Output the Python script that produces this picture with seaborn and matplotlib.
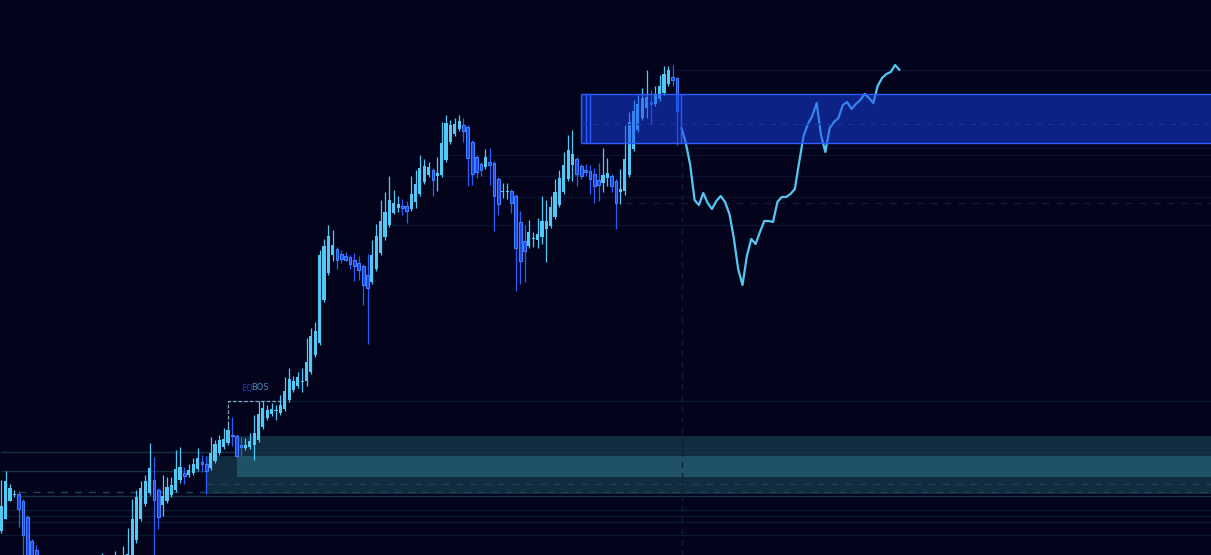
import numpy as np
import pandas as pd
import matplotlib.pyplot as plt
from matplotlib.patches import Rectangle
import seaborn as sns

# candle data (one bar per index)
opens = [1924, 1936, 1954, 1960, 1961, 1954, 1938, 1914, 1905, 1870, 1855, 1845, 1830, 1840, 1825,
         1830, 1838, 1846, 1840, 1855, 1862, 1858, 1872, 1880, 1895, 1890, 1894, 1898, 1892, 1890,
         1895, 1915, 1936, 1951, 1962, 1975, 1965, 1950, 1954, 1960,
         1965, 1975, 1982, 1980, 1982, 1986, 1993, 1991, 1987, 1994,
         2002, 2008, 2012, 2020, 2019, 2010, 2007, 2008, 2010, 2015,
         2028, 2037, 2041, 2044, 2042, 2046, 2055, 2065, 2069, 2073,
         2074, 2083, 2100, 2112, 2155, 2182, 2200, 2206, 2201, 2199,
         2198, 2195, 2192, 2189, 2180, 2173, 2186, 2202, 2218, 2230,
         2242, 2247, 2249, 2249, 2246, 2253, 2261, 2273, 2280, 2285,
         2279, 2280, 2295, 2313, 2321, 2326, 2330, 2328, 2313, 2298,
         2291, 2288, 2293, 2292, 2276, 2263, 2263, 2264, 2259, 2233,
         2214, 2209, 2216, 2215, 2218, 2226, 2229, 2238, 2250, 2263,
         2276, 2290, 2296, 2289, 2285, 2284, 2281, 2275, 2272, 2277,
         2279, 2274, 2263, 2264, 2280, 2306, 2325, 2337, 2347, 2353,
         2351, 2356, 2362, 2371, 2378, 2377]
highs = [1975, 1984, 1971, 1965, 1964, 1956, 1940, 1916, 1910, 1874, 1862, 1850, 1845, 1848, 1835,
         1842, 1850, 1852, 1858, 1866, 1870, 1875, 1885, 1902, 1899, 1898, 1904, 1899, 1909, 1927,
         1956, 1965, 1974, 1980, 2012, 1998, 1967, 1980, 1978, 1978,
         2005, 2008, 1988, 1991, 1997, 2007, 2000, 1999, 2018, 2015,
         2020, 2027, 2033, 2038, 2021, 2018, 2017, 2022, 2040, 2054,
         2054, 2050, 2052, 2050, 2060, 2078, 2087, 2079, 2083, 2087,
         2117, 2127, 2133, 2205, 2216, 2230, 2225, 2208, 2205, 2203,
         2200, 2202, 2199, 2191, 2201, 2215, 2231, 2255, 2263, 2279,
         2265, 2259, 2256, 2254, 2279, 2285, 2300, 2296, 2293, 2287,
         2298, 2333, 2340, 2335, 2337, 2340, 2337, 2330, 2315, 2300,
         2293, 2306, 2307, 2294, 2278, 2272, 2272, 2266, 2261, 2244,
         2230, 2235, 2223, 2237, 2259, 2255, 2259, 2276, 2285, 2303,
         2320, 2325, 2298, 2291, 2291, 2290, 2287, 2292, 2307, 2297,
         2281, 2276, 2286, 2330, 2343, 2355, 2360, 2367, 2385, 2365,
         2369, 2380, 2389, 2389, 2390, 2378]
lows = [1922, 1936, 1954, 1958, 1928, 1895, 1885, 1875, 1865, 1850, 1840, 1825, 1825, 1820, 1810,
        1826, 1832, 1835, 1838, 1850, 1852, 1855, 1868, 1875, 1885, 1880, 1888, 1885, 1886, 1885,
        1890, 1912, 1934, 1949, 1960, 1893, 1926, 1939, 1952, 1958,
        1963, 1972, 1971, 1978, 1980, 1984, 1983, 1961, 1985, 1992,
        2000, 2006, 2010, 2009, 1998, 1999, 2005, 2006, 1995, 2013,
        2026, 2035, 2039, 2035, 2040, 2044, 2053, 2063, 2067, 2063,
        2069, 2081, 2098, 2110, 2153, 2180, 2194, 2186, 2192, 2194,
        2186, 2174, 2175, 2150, 2111, 2171, 2184, 2200, 2215, 2228,
        2241, 2243, 2240, 2232, 2244, 2247, 2259, 2271, 2278, 2259,
        2264, 2278, 2293, 2311, 2319, 2324, 2313, 2269, 2270, 2277,
        2279, 2286, 2270, 2224, 2240, 2257, 2256, 2242, 2164, 2171,
        2173, 2207, 2208, 2207, 2211, 2193, 2227, 2236, 2248, 2261,
        2274, 2274, 2269, 2276, 2279, 2261, 2252, 2254, 2263, 2269,
        2263, 2226, 2251, 2260, 2278, 2304, 2323, 2335, 2337, 2331,
        2349, 2354, 2360, 2369, 2369, 2310]
closes = [1949, 1974, 1967, 1961, 1946, 1920, 1890, 1880, 1870, 1855, 1845, 1830, 1840, 1825, 1830,
          1838, 1846, 1840, 1855, 1862, 1858, 1872, 1880, 1895, 1890, 1894, 1898, 1892, 1899, 1901,
          1936, 1958, 1967, 1974, 1987, 1955, 1938, 1959, 1968, 1970,
          1986, 1988, 1979, 1985, 1991, 1997, 1991, 1984, 2002, 2011,
          2015, 2016, 2025, 2019, 1999, 2008, 2010, 2014, 2022, 2041,
          2047, 2045, 2046, 2045, 2050, 2064, 2076, 2074, 2078, 2074,
          2093, 2119, 2124, 2200, 2209, 2219, 2210, 2195, 2196, 2195,
          2191, 2189, 2185, 2170, 2167, 2200, 2219, 2234, 2243, 2255,
          2252, 2251, 2247, 2244, 2261, 2271, 2287, 2289, 2288, 2275,
          2282, 2312, 2332, 2330, 2331, 2334, 2324, 2297, 2281, 2283,
          2285, 2298, 2290, 2259, 2251, 2264, 2264, 2252, 2207, 2194,
          2204, 2223, 2217, 2221, 2234, 2234, 2248, 2263, 2277, 2290,
          2305, 2301, 2281, 2279, 2283, 2276, 2269, 2270, 2280, 2282,
          2269, 2252, 2266, 2296, 2333, 2344, 2351, 2357, 2358, 2351,
          2360, 2369, 2381, 2385, 2375, 2344]

# projected path after the last bar
proj_start = 156
proj_prices = [2327, 2312, 2290, 2255, 2250, 2262, 2252, 2246, 2254, 2259, 2253, 2241, 2217, 2186,
               2170, 2199, 2216, 2211, 2223, 2234, 2234, 2233, 2253, 2258, 2258, 2261, 2266, 2293,
               2319, 2331, 2339, 2352, 2320, 2303, 2327, 2333, 2337, 2350, 2353, 2346, 2351, 2355,
               2361, 2357, 2352, 2369, 2377, 2381, 2383, 2390, 2385]

# supply zone (blue) and demand zones (teal)
supply_top, supply_bot, supply_mid = 2360.7, 2311.7, 2330.7
supply_edges = [133, 134, 135, 156]
demand_a = (47, 1961, 1999)
demand_b = (54, 1999, 2019)
demand_core = (54, 1978, 1999)

# faint levels: price, start bar
level_prices = [2384.7, 2306.7, 2300, 2279, 2258.5, 2229.7, 2053.7, 2002.7, 1984,
                1958.7, 1944.7, 1938.7, 1932.7, 1919.7, 2007.3]
level_starts = [155, 156, 101, 101, 117, 89, 52, 0, 0, 4, 0, 0, 0, 0, 54]
dash_prices = [2251.7, 1962.7, 1970.7]
dash_starts = [143, 4, 47]

bg = '#03041c'
bull = '#52c9f5'
bear_fill = '#1d42e6'
bear_edge = '#3f80ff'

sns.set_theme(style='dark', rc={'axes.facecolor': bg, 'figure.facecolor': bg})
plt.rcParams['font.family'] = ['DejaVu Sans']

fig = plt.figure(figsize=(12.11, 5.55), dpi=100)
ax = fig.add_axes([0, 0, 1, 1])
ax.set_facecolor(bg)
x_end = 300

df = pd.DataFrame({'o': opens, 'h': highs, 'l': lows, 'c': closes})
df['i'] = np.arange(len(df))
df['bot'] = df[['o', 'c']].min(axis=1)
df['hgt'] = (df['c'] - df['o']).abs().clip(lower=1.3)
up = df['c'] >= df['o']
dn = ~up

# demand zones
ax.add_patch(Rectangle((demand_a[0], demand_a[1]), x_end, demand_a[2] - demand_a[1],
                       fc='#112b3f', lw=0, zorder=1))
ax.add_patch(Rectangle((demand_b[0], demand_b[1]), x_end, demand_b[2] - demand_b[1],
                       fc='#112b3f', lw=0, zorder=1))
ax.add_patch(Rectangle((demand_core[0], demand_core[1]), x_end, demand_core[2] - demand_core[1],
                       fc='#1f5267', lw=0, zorder=1))

# levels
for p, s in zip(level_prices, level_starts):
    col = '#091331' if p > 2100 else '#0b1a2c'
    z = 1.5
    if 1955 < p < 2010:
        col = '#133244'
    if demand_core[1] < p < demand_core[2]:
        z = 0.9  # hidden inside the zone
    ax.hlines(p, s, x_end, color=col, lw=1, zorder=z)
for p, s in zip(dash_prices, dash_starts):
    col = '#101d3a' if p > 2100 else '#1c4457'
    ax.hlines(p, s, x_end, color=col, lw=1, ls=(0, (5, 5)), zorder=1.5)

# "now" line
ax.vlines(proj_start + 0.05, 1880, supply_bot, color='#101d33', lw=1, ls=(0, (4, 4)), zorder=1.5)

# wicks
ax.vlines(df.i[up], df.l[up], df.h[up], color=bull, lw=0.9, zorder=3)
ax.vlines(df.i[dn], df.l[dn], df.h[dn], color='#2a5cff', lw=0.9, zorder=3)
# bodies
ax.bar(df.i[up], df.hgt[up], bottom=df.bot[up], width=0.72, color=bull, lw=0, zorder=4)
ax.bar(df.i[dn], df.hgt[dn], bottom=df.bot[dn], width=0.62, facecolor=bear_fill,
       edgecolor=bear_edge, lw=0.8, zorder=4)

# BOS marker
ax.plot([52, 52, 64.4], [2019, 2053.7, 2053.7], color='#7fa6c8', lw=0.9,
        ls=(0, (3, 1.5)), zorder=5)
ax.text(56.4, 2067, 'EQ', color='#1f3aa8', fontsize=6, ha='center', va='center', zorder=5)
ax.text(59.3, 2067, 'BOS', color='#5288b5', fontsize=6, ha='center', va='center', zorder=5)

# projection
proj_idx = np.arange(proj_start, proj_start + len(proj_prices))
sns.lineplot(x=proj_idx, y=proj_prices, ax=ax, color='#55c8f2', lw=1.6, zorder=5)

# supply zone on top
ax.add_patch(Rectangle((supply_edges[0], supply_bot), x_end, supply_top - supply_bot,
                       fc='#1540f0', alpha=0.5, lw=0, zorder=6))
ax.hlines([supply_top, supply_bot], supply_edges[0], x_end, color='#2d5cff', lw=1, zorder=7)
ax.vlines(supply_edges, supply_bot, supply_top, color='#2d5cff', lw=1, zorder=7)
ax.hlines(supply_mid, supply_edges[0], x_end, color='#1a3398', lw=0.8, ls=(0, (5, 5)), zorder=7)

ax.set_xlim(-0.3, 277.45)
ax.set_ylim(1900, 2455)
ax.axis('off')

fig.savefig('out.png', dpi=100, facecolor=bg)
